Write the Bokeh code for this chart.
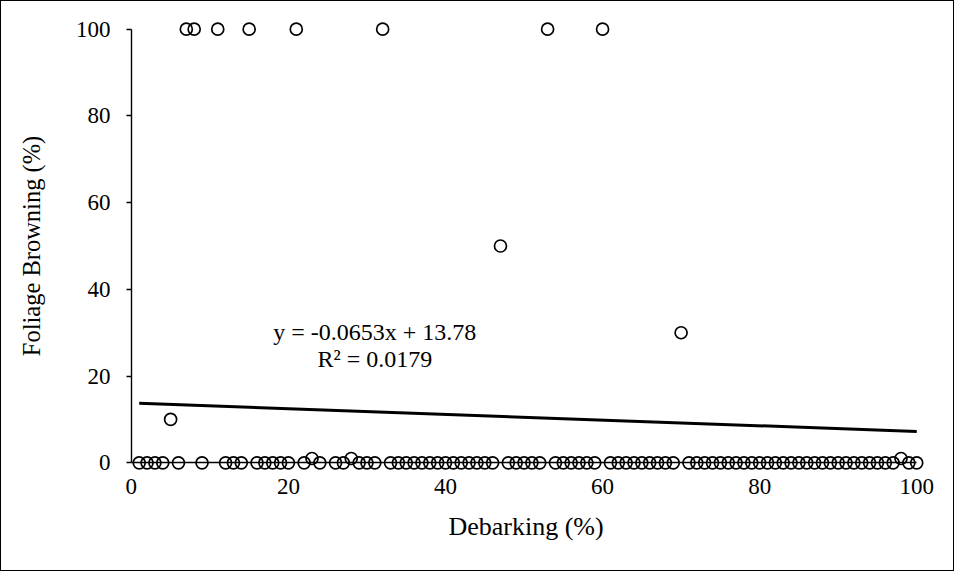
from bokeh.plotting import figure
from bokeh.models import Range1d, Label, FixedTicker, LinearAxis
from bokeh.embed import file_html
from bokeh.resources import INLINE

# Debarking (%) of each tree and its foliage browning (%)
debarking = [1, 2, 3, 4, 5, 6, 7, 8, 9,
             11, 12, 13, 14, 15, 16, 17, 18, 19, 20, 21, 22, 23, 24,
             26, 27, 28, 29, 30, 31, 32,
             33, 34, 35, 36, 37, 38, 39, 40, 41, 42, 43, 44, 45, 46,
             47,
             48, 49, 50, 51, 52,
             53,
             54, 55, 56, 57, 58, 59,
             60,
             61, 62, 63, 64, 65, 66, 67, 68, 69,
             70,
             71, 72, 73, 74, 75, 76, 77, 78, 79, 80, 81, 82, 83, 84, 85, 86,
             87, 88, 89, 90, 91, 92, 93, 94, 95, 96, 97,
             98, 99, 100]
browning = [0, 0, 0, 0, 10, 0, 100, 100, 0,
            100, 0, 0, 0, 100, 0, 0, 0, 0, 0, 100, 0, 1, 0,
            0, 0, 1, 0, 0, 0, 100,
            0, 0, 0, 0, 0, 0, 0, 0, 0, 0, 0, 0, 0, 0,
            50,
            0, 0, 0, 0, 0,
            100,
            0, 0, 0, 0, 0, 0,
            100,
            0, 0, 0, 0, 0, 0, 0, 0, 0,
            30,
            0, 0, 0, 0, 0, 0, 0, 0, 0, 0, 0, 0, 0, 0, 0, 0,
            0, 0, 0, 0, 0, 0, 0, 0, 0, 0, 0,
            1, 0, 0]
assert len(debarking) == len(browning)

# linear trend shown on the chart
trend_slope = -0.0653
trend_intercept = 13.78
trend_r2 = 0.0179

x_ticks = [0, 20, 40, 60, 80, 100]
y_ticks = [0, 20, 40, 60, 80, 100]

FONT = "Liberation Serif"

p = figure(width=954, height=571, output_backend="svg", toolbar_location=None,
           x_range=Range1d(-1, 101.5), y_range=Range1d(-2, 102),
           min_border_left=122, min_border_right=27, min_border_top=19,
           min_border_bottom=101)
p.styles = {"border": "1px solid black"}
p.outline_line_color = None
p.xgrid.visible = False
p.ygrid.visible = False
p.background_fill_color = "white"
p.border_fill_color = "white"

# label-only axes at the frame edges
for ax, ticks in ((p.xaxis[0], x_ticks), (p.yaxis[0], y_ticks)):
    ax.ticker = FixedTicker(ticks=ticks)
    ax.axis_line_color = None
    ax.major_tick_line_color = None
    ax.minor_tick_line_color = None
    ax.major_tick_in = 0
    ax.major_tick_out = 0
    ax.major_label_text_font = FONT
    ax.major_label_text_font_size = "23px"
    ax.major_label_text_color = "black"
    ax.axis_label_text_font = FONT
    ax.axis_label_text_font_style = "normal"
    ax.axis_label_text_color = "black"

p.xaxis.axis_label = "Debarking (%)"
p.yaxis.axis_label = "Foliage Browning (%)"
p.xaxis.axis_label_text_font_size = "26px"
p.yaxis.axis_label_text_font_size = "24.5px"
p.xaxis.major_label_standoff = 7
p.xaxis.axis_label_standoff = 15
p.yaxis.major_label_standoff = 13
p.yaxis.axis_label_standoff = 28

# line-and-tick axes crossing at zero
def line_axis(ticks, tick_out):
    return LinearAxis(ticker=FixedTicker(ticks=ticks), fixed_location=0,
                      bounds=(0, 100), axis_line_color="black",
                      axis_line_width=1.4, major_tick_line_color="black",
                      major_tick_line_width=1.4, major_tick_in=0,
                      major_tick_out=tick_out, minor_tick_line_color=None,
                      major_label_text_color=None,
                      major_label_text_font_size="1px",
                      major_label_standoff=0)

p.add_layout(line_axis(x_ticks, 0), "below")
p.add_layout(line_axis(y_ticks, 5), "left")

xs = [min(debarking), max(debarking)]
ys = [trend_intercept + trend_slope * v for v in xs]
p.line(xs, ys, line_color="black", line_width=3)

p.scatter(debarking, browning, marker="circle", size=12, fill_color=None,
          line_color="black", line_width=1.7)

eq = "y = %.4fx + %.2f" % (trend_slope, trend_intercept)
p.add_layout(Label(x=31.0, y=30.2, text=eq, text_align="center",
                   text_baseline="middle", text_font=FONT,
                   text_font_size="24px", text_color="black"))
p.add_layout(Label(x=31.0, y=24.0, text="R² = %.4f" % trend_r2,
                   text_align="center", text_baseline="middle",
                   text_font=FONT, text_font_size="24px", text_color="black"))

open("out.html", "w").write(file_html(p, INLINE))
